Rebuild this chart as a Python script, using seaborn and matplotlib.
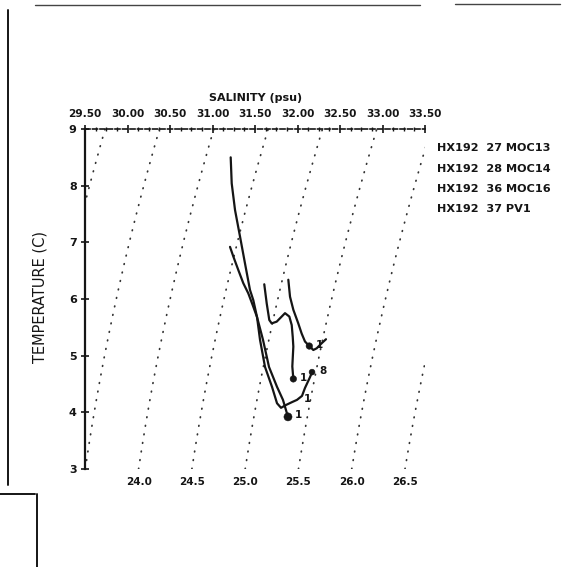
import numpy as np
import pandas as pd
import matplotlib
matplotlib.use("Agg")
import matplotlib.pyplot as plt
import seaborn as sns
from matplotlib.lines import Line2D

# ---------------- data ----------------
moc13_sal = [31.214, 31.226, 31.265, 31.324, 31.382, 31.441, 31.480, 31.524, 31.559,
             31.618, 31.700, 31.759, 31.806, 31.865, 31.935, 31.994, 32.053, 32.088,
             32.147, 32.171]
moc13_temp = [8.50, 8.04, 7.57, 7.10, 6.63, 6.16, 5.98, 5.68, 5.28,
              4.80, 4.45, 4.16, 4.08, 4.13, 4.18, 4.22, 4.29, 4.43,
              4.62, 4.71]

moc14_sal = [31.206, 31.245, 31.304, 31.362, 31.421, 31.476, 31.524, 31.594, 31.665,
             31.759, 31.829, 31.888]
moc14_temp = [6.92, 6.75, 6.51, 6.28, 6.10, 5.88, 5.68, 5.28, 4.80,
              4.45, 4.22, 3.92]

moc16_sal = [31.609, 31.638, 31.668, 31.696, 31.755, 31.814, 31.853, 31.904, 31.932,
             31.944, 31.951, 31.939, 31.951]
moc16_temp = [6.26, 5.92, 5.63, 5.57, 5.60, 5.69, 5.75, 5.69, 5.54,
              5.33, 5.16, 4.81, 4.59]

pv1_sal = [31.892, 31.912, 31.951, 32.009, 32.049, 32.088, 32.139, 32.186, 32.226,
           32.285, 32.335]
pv1_temp = [6.34, 6.04, 5.81, 5.57, 5.39, 5.25, 5.17, 5.10, 5.13,
            5.22, 5.29]

# end-point markers and their labels
dot_sal = [32.171, 31.888, 31.951, 32.139]
dot_temp = [4.71, 3.92, 4.59, 5.17]
dot_size = [18, 34, 22, 22]
dot_text = ["8", "1", "1", "1"]

legend_labels = ["HX192  27 MOC13", "HX192  28 MOC14", "HX192  36 MOC16", "HX192  37 PV1"]

sal_ticks = [29.5, 30.0, 30.5, 31.0, 31.5, 32.0, 32.5, 33.0, 33.5]
temp_ticks = [3, 4, 5, 6, 7, 8, 9]
sigma_levels = [23.0, 23.5, 24.0, 24.5, 25.0, 25.5, 26.0, 26.5, 27.0]
sigma_labelled = [24.0, 24.5, 25.0, 25.5, 26.0, 26.5]

# ---------------- style ----------------
sns.set_style("white")
plt.rcParams["font.family"] = ["DejaVu Sans"]
INK = "#151515"

fig = plt.figure(figsize=(5.66, 5.67), dpi=100)
ax = fig.add_axes([85 / 566, 1 - 469 / 567, 340 / 566, 340 / 567])
ax.set_xlim(29.5, 33.5)
ax.set_ylim(3, 9)


# sigma-t (UNESCO 1980, p = 0)
def sigma_t(S, T):
    rw = (999.842594 + 6.793952e-2 * T - 9.095290e-3 * T**2 + 1.001685e-4 * T**3
          - 1.120083e-6 * T**4 + 6.536332e-9 * T**5)
    A = 8.24493e-1 - 4.0899e-3 * T + 7.6438e-5 * T**2 - 8.2467e-7 * T**3 + 5.3875e-9 * T**4
    B = -5.72466e-3 + 1.0227e-4 * T - 1.6546e-6 * T**2
    C = 4.8314e-4
    return rw + A * S + B * S**1.5 + C * S**2 - 1000.0


s_grid = np.linspace(27.0, 36.0, 2000)
t_grid = np.linspace(3.0, 9.0, 200)
for lev in sigma_levels:
    s_line = np.array([np.interp(lev, sigma_t(s_grid, t), s_grid) for t in t_grid])
    ax.plot(s_line, t_grid, color="#333333", lw=1.25,
            linestyle=(0, (0.4, 4.6)), dash_capstyle="round", zorder=1)
    if lev in sigma_labelled:
        s0 = np.interp(lev, sigma_t(s_grid, 3.0), s_grid)
        ax.annotate(f"{lev:.1f}", xy=(s0, 3.0), xytext=(0, -6), textcoords="offset points",
                    ha="center", va="top", fontsize=7.5, fontweight="bold", color=INK,
                    annotation_clip=False)

# ---------------- T-S curves ----------------
frames = []
for name, s, t in [("MOC13", moc13_sal, moc13_temp), ("MOC14", moc14_sal, moc14_temp),
                   ("MOC16", moc16_sal, moc16_temp), ("PV1", pv1_sal, pv1_temp)]:
    frames.append(pd.DataFrame({"sal": s, "temp": t, "station": name, "order": range(len(s))}))
df = pd.concat(frames, ignore_index=True)

sns.lineplot(data=df, x="sal", y="temp", hue="station", units="station", estimator=None,
             sort=False, palette=[INK] * 4, lw=1.6, legend=False, ax=ax, zorder=3)

sns.scatterplot(x=dot_sal, y=dot_temp, size=dot_size, sizes=(18, 34), color=INK,
                edgecolor=INK, legend=False, ax=ax, zorder=4)
for s, t, lbl in zip(dot_sal, dot_temp, dot_text):
    ax.annotate(lbl, xy=(s, t), xytext=(5, 1), textcoords="offset points",
                ha="left", va="center", fontsize=7.5, fontweight="bold", color=INK)
ax.annotate("1", xy=(moc13_sal[16], moc13_temp[16]), xytext=(1, -2), textcoords="offset points",
            ha="left", va="center", fontsize=7.5, fontweight="bold", color=INK)

# ---------------- axes ----------------
ax.set_xlabel("")
ax.set_ylabel("")
ax.xaxis.tick_top()
ax.set_xticks(sal_ticks)
ax.set_xticklabels([f"{v:.2f}" for v in sal_ticks])
ax.set_xticks(np.arange(29.5, 33.51, 0.125), minor=True)
ax.set_yticks(temp_ticks)
ax.set_yticklabels([str(v) for v in temp_ticks])
ax.tick_params(axis="x", which="major", direction="inout", length=6, width=1.2,
               pad=4, labelsize=7.6, colors=INK, top=True, bottom=False)
ax.tick_params(axis="x", which="minor", direction="inout", length=3, width=1.0,
               top=True, bottom=False, colors=INK)
ax.tick_params(axis="y", which="major", direction="inout", length=6, width=1.2,
               pad=3, labelsize=8, colors=INK, left=True, right=False)
for lab in ax.get_xticklabels() + ax.get_yticklabels():
    lab.set_fontweight("bold")

ax.spines["right"].set_visible(False)
ax.spines["bottom"].set_visible(False)
ax.spines["left"].set_linewidth(1.6)
ax.spines["left"].set_color(INK)
ax.spines["top"].set_linewidth(1.2)
ax.spines["top"].set_color(INK)
ax.spines["top"].set_linestyle((0, (3, 1.5)))
ax.grid(False)

fig.text(256 / 566, 1 - 98 / 567, "SALINITY (psu)", ha="center", va="center",
         fontsize=8, fontweight="bold", color=INK)
fig.text(40 / 566, 1 - 297 / 567, "TEMPERATURE (C)", rotation=90, ha="center", va="center",
         fontsize=10.5, color=INK)

for i, lbl in enumerate(legend_labels):
    fig.text(437 / 566, 1 - (148 + 20.5 * i) / 567, lbl, ha="left", va="center",
             fontsize=8.1, fontweight="bold", color=INK)

# scanned page frame
frame_kw = dict(color=INK, lw=1.4, transform=fig.transFigure)
fig.add_artist(Line2D([8 / 566, 8 / 566], [1 - 10 / 567, 1 - 485 / 567], **frame_kw))
fig.add_artist(Line2D([0, 35 / 566], [1 - 494 / 567, 1 - 494 / 567], **frame_kw))
fig.add_artist(Line2D([37 / 566, 37 / 566], [1 - 494 / 567, 0], **frame_kw))
fig.add_artist(Line2D([35 / 566, 420 / 566], [1 - 5 / 567, 1 - 5 / 567], color="#444444",
                      lw=1.0, transform=fig.transFigure))
fig.add_artist(Line2D([455 / 566, 560 / 566], [1 - 4 / 567, 1 - 4 / 567], color="#444444",
                      lw=1.0, transform=fig.transFigure))

fig.savefig("out.png", dpi=100, facecolor="white")
